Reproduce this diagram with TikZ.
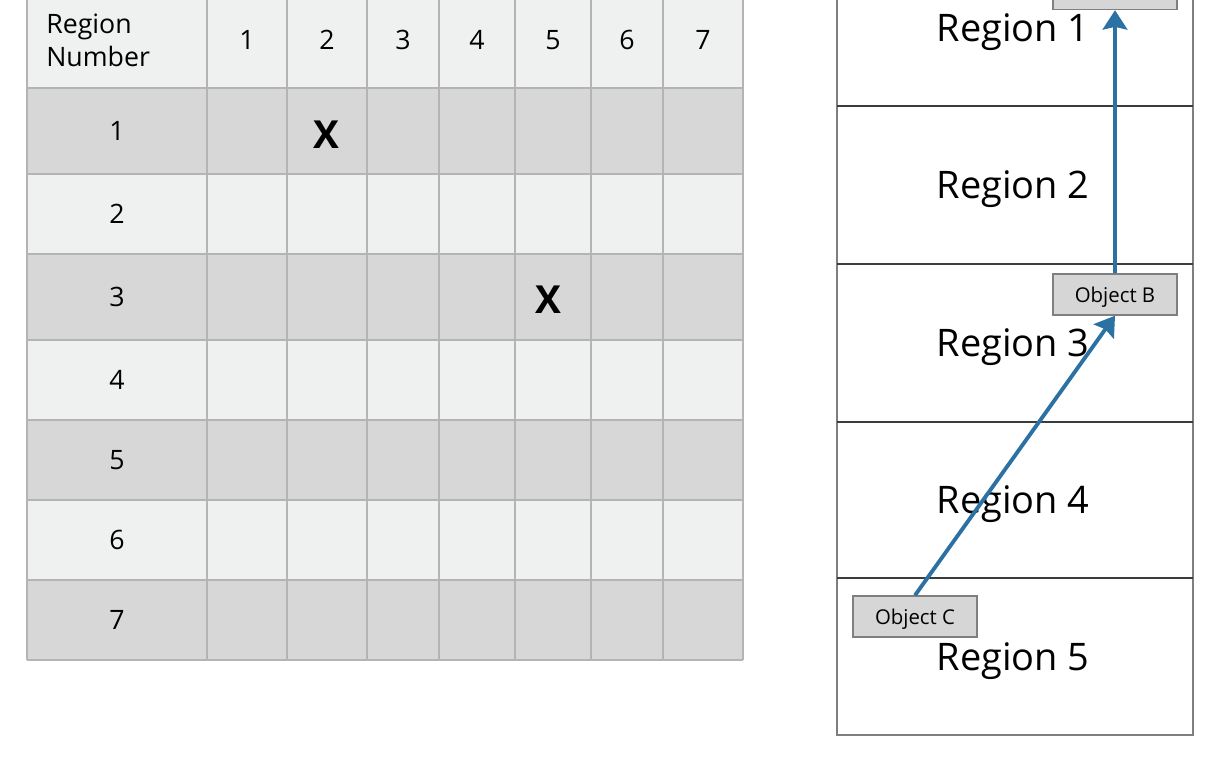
\documentclass[tikz,border=0pt]{standalone}
\usepackage{fontspec}
\setmainfont{Open Sans}
\usetikzlibrary{positioning}
\usetikzlibrary{arrows.meta}

\definecolor{lightrow}{HTML}{EFF0F0}
\definecolor{darkrow}{HTML}{D7D7D7}
\definecolor{gridline}{HTML}{B4B4B4}
\definecolor{boxfill}{HTML}{D6D6D6}
\definecolor{boxline}{HTML}{7F7F7F}
\definecolor{regionline}{HTML}{3C3C3C}
\definecolor{movearrow}{HTML}{2B71A3}

\begin{document}
\begin{tikzpicture}[x=0.02cm, y=-0.02cm,
    cellnum/.style={font=\fontsize{15.2}{19}\selectfont, inner sep=0pt},
    cellmark/.style={font=\fontsize{22}{24}\selectfont\bfseries, inner sep=0pt},
    regionlabel/.style={font=\fontsize{21.6}{24}\selectfont, text depth=0pt, inner sep=0pt},
    objectbox/.style={draw=boxline, fill=boxfill, line width=0.8pt, inner sep=0pt,
        minimum width=2.48cm, minimum height=0.82cm, text depth=0pt,
        font=\fontsize{11.6}{13}\selectfont},
    move/.style={movearrow, line width=2.2pt, -{Stealth[length=11pt, width=14pt, inset=1.5pt]}}]
            \useasboundingbox (0,0) rectangle (1216,765);
            \clip (0,0) rectangle (1216,765);

            % Occupancy table: row shading
            \fill[lightrow] (27,-10) rectangle (743,88);
            \foreach \ytop/\ybot/\shade in {88/174/darkrow, 174/254/lightrow, 254/340/darkrow,
                340/420/lightrow, 420/500/darkrow, 500/580/lightrow, 580/660/darkrow} {
                \fill[\shade] (27,\ytop) rectangle (743,\ybot);
            }

            % Grid lines
            \foreach \x in {27,207,287,367,439,515,591,663,743} {
                \draw[gridline, line width=1.1pt] (\x,-10) -- (\x,660);
            }
            \foreach \y in {88,174,254,340,420,500,580,660} {
                \draw[gridline, line width=1.1pt] (27,\y) -- (743,\y);
            }

            % Header texts
            \node[cellnum, anchor=west, align=left, text depth=0pt] (corner) at (46,40) {Region\\Number};
            \foreach \c/\x in {1/247, 2/327, 3/403, 4/477, 5/553, 6/627, 7/703} {
                \node[cellnum] (colhead\c) at (\x,40) {\c};
            }
            \foreach \r/\y in {1/131, 2/214, 3/297, 4/380, 5/460, 6/540, 7/620} {
                \node[cellnum] (rowhead\r) at (117,\y) {\r};
            }

            % Marks in the table
            \node[cellmark] (mark12) at (326,135) {X};
            \node[cellmark] (mark35) at (548,300) {X};

            % Regions strip
            \draw[boxline, line width=1.1pt] (837,-20) rectangle (1193,735);
            \foreach \y in {106,264,422,578} {
                \draw[regionline, line width=1.1pt] (837,\y) -- (1193,\y);
            }
            \foreach \r/\y in {1/28, 2/185, 3/343, 4/500, 5/657} {
                \node[regionlabel] (region\r) at (1013,\y) {Region \r};
            }

            % Objects
            \node[objectbox] (objA) at (1115,-11) {};
            \node[objectbox] (objB) at (1115,294.5) {Object B};
            \node[objectbox] (objC) at (915,616.5) {Object C};

            % Movement path
            \draw[move] (objC.north) -- (objB.south);
            \draw[move] (objB.north) -- (objA.south);
        \end{tikzpicture}
\end{document}
